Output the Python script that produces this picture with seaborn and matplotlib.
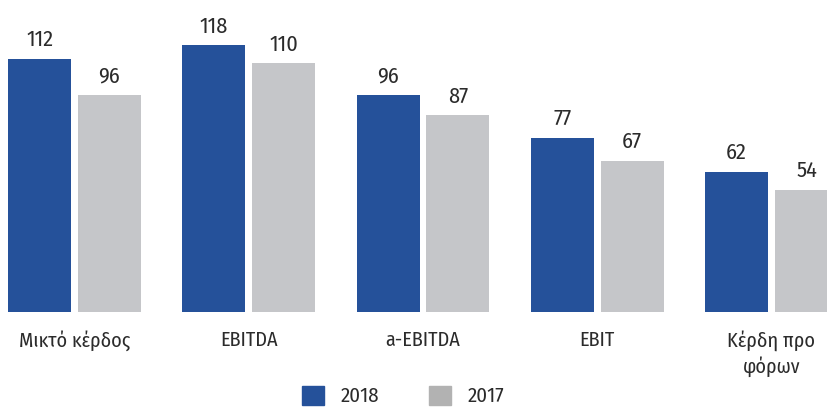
import matplotlib
matplotlib.use("Agg")
import matplotlib.pyplot as plt
from matplotlib.patches import Patch
import pandas as pd
import seaborn as sns

# data
categories = ["Μικτό κέρδος", "EBITDA", "a-EBITDA", "EBIT", "Κέρδη προ\nφόρων"]
years = ["2018", "2017"]
values_2018 = [112, 118, 96, 77, 62]
values_2017 = [96, 110, 87, 67, 54]

df = pd.DataFrame({
    "cat": categories * 2,
    "year": [years[0]] * 5 + [years[1]] * 5,
    "value": values_2018 + values_2017,
})

blue = "#25519a"
grey = "#c5c6c9"
txt = "#2b2b2b"

sns.set_style("white")
plt.rcParams["font.family"] = ["Fira Sans Condensed", "DejaVu Sans"]

fig = plt.figure(figsize=(8.28, 4.07), dpi=100)
ax = fig.add_axes([0, 95 / 407, 1, 312 / 407])

sns.barplot(data=df, x="cat", y="value", hue="year", order=categories,
            hue_order=years, palette=[blue, grey], width=0.8034, gap=0.1,
            saturation=1, linewidth=0, legend=False, ax=ax)

# value labels above bars
for cont in ax.containers:
    ax.bar_label(cont, padding=6, fontsize=16, color=txt)

ax.set_xlim(-74.5 / 174.25, (828 - 74.5) / 174.25)
ax.set_ylim(0, 312 / 2.26)
ax.set_xlabel("")
ax.set_ylabel("")
ax.set_yticks([])
ax.tick_params(axis="x", length=0, pad=13, labelsize=14.5, labelcolor=txt)
for lbl in ax.get_xticklabels():
    lbl.set_verticalalignment("top")
    lbl.set_linespacing(1.35)
sns.despine(ax=ax, left=True, bottom=True)

handles = [Patch(color=blue, label="2018"), Patch(color="#b2b2b2", label="2017")]
fig.legend(handles=handles, loc="center", bbox_to_anchor=(403 / 828, 1 - 396 / 407),
           ncol=2, frameon=False, fontsize=15, handlelength=1.05, handleheight=1.05,
           handletextpad=0.8, columnspacing=2.4, labelcolor=txt)

fig.savefig("out.png", dpi=100)
